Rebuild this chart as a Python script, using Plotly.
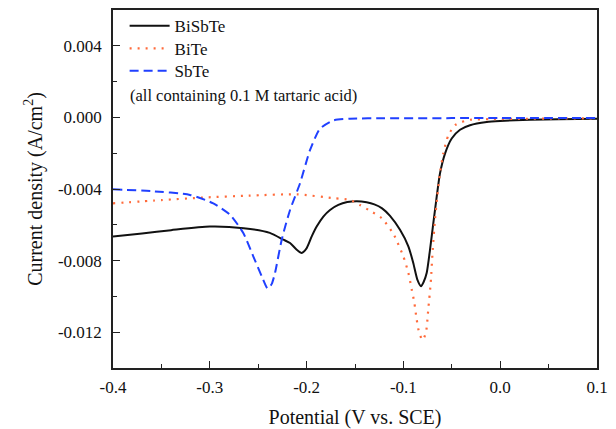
import plotly.graph_objects as go

# Linear sweep voltammograms (current density vs. potential)
bisbte_v = [-0.400, -0.370, -0.340, -0.300, -0.265, -0.238, -0.224, -0.2171, -0.2102, -0.2051,
            -0.1999, -0.1947, -0.1896, -0.1827, -0.1758, -0.1672, -0.1580, -0.148, -0.138, -0.130,
            -0.1220, -0.1138, -0.1035, -0.0949, -0.0898, -0.0856, -0.0818, -0.0790, -0.0759, -0.0725,
            -0.0691, -0.0656, -0.0622, -0.0570, -0.0501, -0.0415, -0.0312, -0.0139, 0.0, 0.0308,
            0.060, 0.100]
bisbte_j = [-0.00665, -0.00648, -0.00630, -0.00610, -0.00619, -0.00645, -0.00683, -0.00702, -0.00739, -0.00757,
            -0.00730, -0.00665, -0.00610, -0.00554, -0.00517, -0.00489, -0.00473, -0.00468, -0.00474, -0.00486,
            -0.00508, -0.00550, -0.00628, -0.00720, -0.00813, -0.00906, -0.00943, -0.00918, -0.00868, -0.00739,
            -0.00591, -0.00443, -0.00313, -0.00202, -0.00118, -0.00069, -0.00044, -0.00026, -0.00020, -0.00013,
            -0.00010, -0.00007]

bite_v = [-0.400, -0.350, -0.307, -0.260, -0.210, -0.171, -0.155, -0.145, -0.135, -0.1224,
          -0.1104, -0.1001, -0.0949, -0.0914, -0.0887, -0.0863, -0.0836, -0.0801, -0.0767, -0.0743,
          -0.0718, -0.0697, -0.0674, -0.0650, -0.0622, -0.0588, -0.0536, -0.0467, -0.0398, -0.0312,
          -0.010, 0.020, 0.060, 0.100]
bite_j = [-0.00480, -0.00462, -0.00448, -0.00437, -0.00430, -0.00452, -0.00461, -0.00489, -0.00520, -0.00563,
          -0.00650, -0.00776, -0.00868, -0.00961, -0.01035, -0.01128, -0.01206, -0.01244, -0.01202, -0.01072,
          -0.00924, -0.00739, -0.00572, -0.00443, -0.00313, -0.00202, -0.00100, -0.00044, -0.00026, -0.00013,
          -0.00010, -0.00008, -0.00006, -0.00005]

sbte_v = [-0.400, -0.360, -0.3205, -0.2964, -0.2791, -0.2654, -0.2551, -0.2464, -0.2402, -0.2360,
          -0.2326, -0.2257, -0.2171, -0.2068, -0.1965, -0.1862, -0.1724, -0.1552, -0.120, -0.050,
          0.0, 0.100]
sbte_j = [-0.00402, -0.00412, -0.00433, -0.00480, -0.00544, -0.00646, -0.00776, -0.00887, -0.00957, -0.00930,
          -0.00868, -0.00683, -0.00517, -0.00368, -0.00183, -0.00063, -0.00017, -0.00007, -0.00005, -0.00004,
          -0.00004, -0.00003]

x_ticks = [-0.4, -0.3, -0.2, -0.1, 0.0, 0.1]
x_ticklabels = ["-0.4", "-0.3", "-0.2", "-0.1", "0.0", "0.1"]
x_minor = [-0.35, -0.25, -0.15, -0.05, 0.05]
y_ticks = [-0.012, -0.008, -0.004, 0.000, 0.004]
y_ticklabels = ["-0.012", "-0.008", "-0.004", "0.000", "0.004"]
y_minor = [-0.014, -0.010, -0.006, -0.002, 0.002, 0.006]

FONT = "Liberation Serif, Times New Roman, serif"
INK = "#111111"

fig = go.Figure()
fig.add_trace(go.Scatter(x=bisbte_v, y=bisbte_j, name="BiSbTe", mode="lines", legend="legend",
                         line=dict(color=INK, width=2, shape="spline", smoothing=0.6)))
fig.add_trace(go.Scatter(x=bite_v, y=bite_j, name="BiTe", mode="lines", legend="legend2",
                         line=dict(color="#FF6A3A", width=2.2, dash="2px,6px", shape="spline", smoothing=0.6)))
fig.add_trace(go.Scatter(x=sbte_v, y=sbte_j, name="SbTe", mode="lines", legend="legend3",
                         line=dict(color="#2040FF", width=2, dash="9px,5px", shape="spline", smoothing=0.6)))

axis_common = dict(showline=True, linecolor="#222222", linewidth=1.6, mirror=True,
                   ticks="inside", tickcolor="#222222", tickwidth=1.4, ticklen=7,
                   showgrid=False, zeroline=False, automargin=False,
                   tickfont=dict(family=FONT, size=17, color=INK))

fig.update_xaxes(range=[-0.4, 0.1], tickmode="array", tickvals=x_ticks, ticktext=x_ticklabels,
                 minor=dict(tickmode="array", tickvals=x_minor, ticks="inside", ticklen=4,
                            tickwidth=1.4, tickcolor="#222222"),
                 title=dict(text="Potential (V vs. SCE)", font=dict(family=FONT, size=20, color=INK),
                            standoff=24),
                 ticklabelstandoff=3,
                 **axis_common)
fig.update_yaxes(range=[-0.014, 0.006], tickmode="array", tickvals=y_ticks, ticktext=y_ticklabels,
                 minor=dict(tickmode="array", tickvals=y_minor, ticks="inside", ticklen=4,
                            tickwidth=1.4, tickcolor="#222222"),
                 title=dict(text="Current density (A/cm<sup>2</sup>)",
                            font=dict(family=FONT, size=20, color=INK), standoff=10),
                 ticklabelstandoff=6,
                 **axis_common)

fig.add_annotation(x=0.030, y=0.00125, xref="paper", yref="y", xanchor="left", yanchor="middle",
                   text="(all containing 0.1 M tartaric acid)", showarrow=False,
                   font=dict(family=FONT, size=16.5, color=INK))

# one legend per series so the rows sit at their own heights
legend_style = dict(x=0.024, xanchor="left", yanchor="middle", bgcolor="rgba(0,0,0,0)",
                    font=dict(family=FONT, size=17, color=INK), itemwidth=40)

fig.update_layout(
    width=616, height=429,
    margin=dict(l=113, r=19, t=9, b=61),
    paper_bgcolor="white", plot_bgcolor="white",
    showlegend=True,
    legend=dict(y=0.952, **legend_style),
    legend2=dict(y=0.889, **legend_style),
    legend3=dict(y=0.827, **legend_style),
)

fig.write_html("out.html")
